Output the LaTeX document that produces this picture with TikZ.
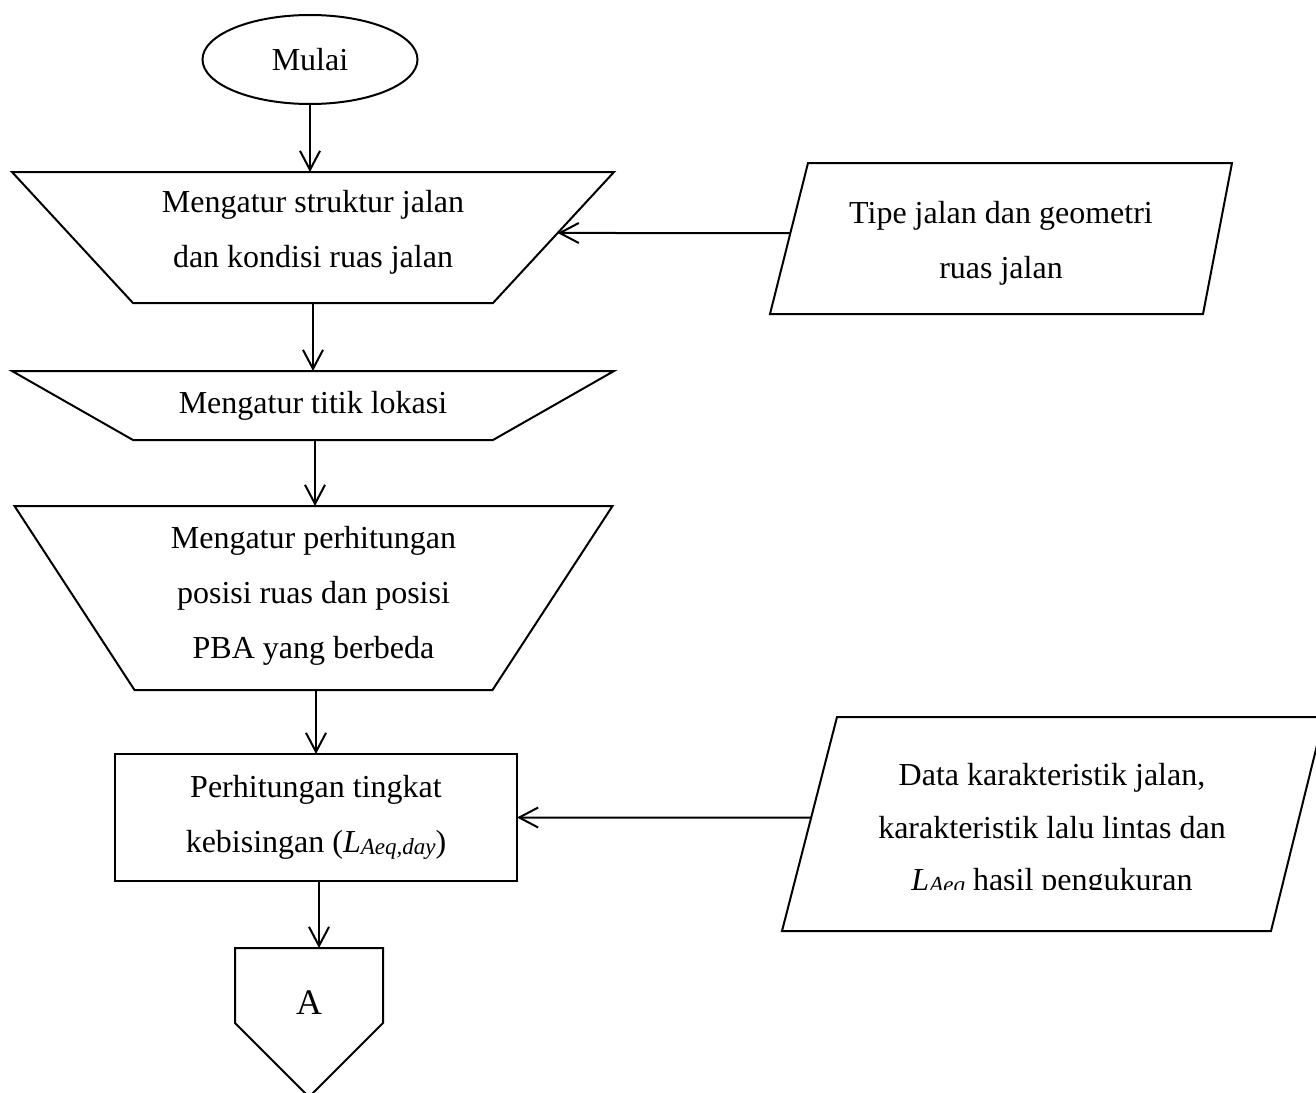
\documentclass[tikz,border=0pt]{standalone}
\usepackage{fontspec}
\setmainfont{Liberation Serif}
\usetikzlibrary{shapes.geometric, arrows.meta, calc}
% italic symbol with a smaller italic index, as in L_{Aeq}
\newcommand{\lsym}[1]{\textit{L}\raisebox{-1pt}{\fontsize{11.5}{12}\selectfont\textit{#1}}}
\begin{document}
\begin{tikzpicture}[x=0.5pt, y=-0.5pt,
  outline/.style={draw, line width=1pt},
  frame/.style={inner sep=0pt, outer sep=0pt},
  lbl/.style={font=\fontsize{16}{27.5}\selectfont, align=center, inner sep=0pt},
  arr/.style={-{Straight Barb[length=9.5pt,width=10pt]}, line width=1pt}]
\useasboundingbox (0,0) rectangle (1316,1092);
\fill[white] (0,0) rectangle (1316,1092);

% start
\node[outline, ellipse, frame, minimum width=107.5pt, minimum height=44.5pt,
  font=\fontsize{16}{16}\selectfont] (mulai) at (310,59.5) {Mulai};

% manual operations (inverted trapezoids)
\node[frame, minimum width=301pt, minimum height=65.5pt] (t1) at (313,237.5) {};
\draw[outline] (t1.north west) -- (t1.north east) -- ([xshift=-60.5pt]t1.south east)
  -- ([xshift=60.5pt]t1.south west) -- cycle;
\node[lbl] (t1text) at ([yshift=2.5pt]t1.center)
  {Mengatur struktur jalan\\dan kondisi ruas jalan};

\node[frame, minimum width=301pt, minimum height=34.5pt] (t2) at (313,405.5) {};
\draw[outline] (t2.north west) -- (t2.north east) -- ([xshift=-60.5pt]t2.south east)
  -- ([xshift=60.5pt]t2.south west) -- cycle;
\node[lbl] (t2text) at (t2.center) {Mengatur titik lokasi};

\node[frame, minimum width=299pt, minimum height=92pt] (t3) at (313.5,598) {};
\draw[outline] (t3.north west) -- (t3.north east) -- ([xshift=-60pt]t3.south east)
  -- ([xshift=60pt]t3.south west) -- cycle;
\node[lbl] (t3text) at ([yshift=1.25pt]t3.center)
  {Mengatur perhitungan\\posisi ruas dan posisi\\PBA yang berbeda};

% process
\node[outline, frame, minimum width=201pt, minimum height=63.5pt, lbl]
  (r) at (316,817.5) {Perhitungan tingkat\\kebisingan (\lsym{Aeq,day})};

% off-page connector
\node[frame, minimum width=74pt, minimum height=74.5pt] (a) at (309,1022.5) {};
\draw[outline] (a.north west) -- (a.north east) -- ($(a.north east)+(0,75)$)
  -- (a.south) -- ($(a.north west)+(0,75)$) -- cycle;
\node[font=\fontsize{18}{18}\selectfont, inner sep=0pt] (atext) at (309,1003) {A};

% data inputs (parallelograms)
\node[frame, minimum width=231pt, minimum height=75.5pt] (p1) at (1001,238.5) {};
\coordinate (p1nw) at ([xshift=19pt]p1.north west);
\coordinate (p1sw) at (p1.south west);
\draw[outline] (p1nw) -- (p1.north east) -- ([xshift=-14.5pt]p1.south east)
  -- (p1sw) -- cycle;
\node[lbl] (p1text) at ([yshift=-2.5pt]p1.center) {Tipe jalan dan geometri\\ruas jalan};

\node[frame, minimum width=271pt, minimum height=107pt] (p2) at (1053,824) {};
\coordinate (p2nw) at ([xshift=27.5pt]p2.north west);
\coordinate (p2sw) at (p2.south west);
\draw[outline] (p2nw) -- (p2.north east) -- ([xshift=-26.5pt]p2.south east)
  -- (p2sw) -- cycle;
\begin{scope}
  \clip (700,700) rectangle (1316,889);
  \node[lbl, font=\fontsize{16}{26.25}\selectfont] (p2text) at (1052,830.5)
    {Data karakteristik jalan,\\karakteristik lalu lintas dan\\\lsym{Aeq} hasil pengukuran};
\end{scope}

% connectors
\coordinate (t1ne) at (t1.north east);
\coordinate (t1se) at ([xshift=-60.5pt]t1.south east);
\draw[arr] (mulai.south) -- (mulai.south |- t1.north);
\draw[arr] (t1.south) -- (t2.north);
\draw[arr] ([xshift=1pt]t2.south) -- ([xshift=1pt]t2.south |- t3.north);
\draw[arr] ([xshift=1.25pt]t3.south) -- ([xshift=1.25pt]t3.south |- r.north);
\draw[arr] ([xshift=1.5pt]r.south) -- ([xshift=1.5pt]r.south |- a.north);
\draw[arr] ($(p1nw)!0.4636!(p1sw)$) -- ($(t1ne)!0.4656!(t1se)$);
\draw[arr] ($(p2nw)!0.4696!(p2sw)$) -- (r.east);
\end{tikzpicture}
\end{document}
